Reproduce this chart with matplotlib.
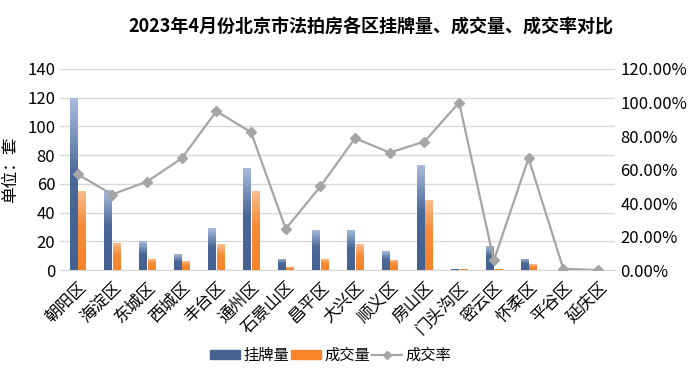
import matplotlib.pyplot as plt
import numpy as np
from matplotlib.ticker import PercentFormatter
from matplotlib.lines import Line2D
from matplotlib.patches import Patch
from matplotlib.colors import LinearSegmentedColormap

plt.rcParams['font.family'] = ['Noto Sans CJK SC', 'DejaVu Sans']

districts = ['朝阳区', '海淀区', '东城区', '西城区', '丰台区', '通州区', '石景山区', '昌平区',
             '大兴区', '顺义区', '房山区', '门头沟区', '密云区', '怀柔区', '平谷区', '延庆区']
listed = [120, 56, 20, 11, 29, 71, 8, 28, 28, 13, 73, 1, 17, 8, 0, 0]
sold = [55, 19, 8, 6, 18, 55, 2, 8, 18, 7, 49, 1, 1, 4, 0, 0]
rate = [57.2, 45.1, 52.8, 66.6, 94.8, 82.3, 24.6, 49.9,
        78.7, 70.1, 76.7, 100.0, 5.8, 66.8, 0.8, 0.0]

blue = '#44618F'
orange = '#F5842A'
grey = '#A5A5A5'
blue_cm = LinearSegmentedColormap.from_list('b', [(0, blue), (0.55, '#4A6898'), (1, '#AABCDD')])
orange_cm = LinearSegmentedColormap.from_list('o', [(0, orange), (0.55, '#F68A36'), (1, '#F9BE90')])

fig = plt.figure(figsize=(7, 3.92), dpi=100)
ax = fig.add_axes([0.086, 0.311, 0.793, 0.513])
ax2 = ax.twinx()

x = np.arange(len(districts))
w = 0.21
grad = np.linspace(0, 1, 100).reshape(-1, 1)


def gradient_bars(xs, vals, cmap):
    bars = ax.bar(xs, vals, w, color='none', zorder=3)
    for b in bars:
        if b.get_height() <= 0:
            continue
        x0, y0 = b.get_x(), b.get_y()
        im = ax.imshow(grad, cmap=cmap, origin='lower', aspect='auto', zorder=3,
                       extent=[x0, x0 + b.get_width(), y0, y0 + b.get_height()])
        im.set_clip_path(b)


gradient_bars(x - w / 2 - 0.02, listed, blue_cm)
gradient_bars(x + w / 2 + 0.02, sold, orange_cm)
ax2.plot(x, rate, color=grey, lw=1.6, marker='D', ms=5, zorder=4)

ax.set_xlim(-0.5, len(districts) - 0.5)
ax.set_ylim(0, 140)
ax.set_yticks(range(0, 141, 20))
ax2.set_ylim(0, 120)
ax2.set_yticks(range(0, 121, 20))
ax2.yaxis.set_major_formatter(PercentFormatter(decimals=2))

ax.grid(axis='y', color='#D9D9D9', lw=1, zorder=0)
for a in (ax, ax2):
    for s in a.spines.values():
        s.set_visible(False)
    a.tick_params(length=0, labelsize=12)
ax.spines['bottom'].set_visible(True)
ax.spines['bottom'].set_color('#D9D9D9')

ax.set_xticks(x)
ax.set_xticklabels(districts, rotation=45, ha='right', rotation_mode='anchor', fontsize=12)
ax.tick_params(axis='x', pad=6)
ax.set_ylabel('单位：套', fontsize=12, labelpad=6)

fig.suptitle('2023年4月份北京市法拍房各区挂牌量、成交量、成交率对比',
             fontsize=13, fontweight='bold', x=0.53, y=0.955)

handles = [Patch(color=blue, label='挂牌量'), Patch(color=orange, label='成交量'),
           Line2D([], [], color=grey, marker='D', ms=4, lw=1.5, label='成交率')]
fig.legend(handles=handles, loc='center', bbox_to_anchor=(0.472, 0.093), ncol=3,
           frameon=False, fontsize=11, handlelength=2.0, handleheight=0.5,
           columnspacing=0.1, handletextpad=0.2)

fig.savefig('out.png', dpi=100, facecolor='white')
